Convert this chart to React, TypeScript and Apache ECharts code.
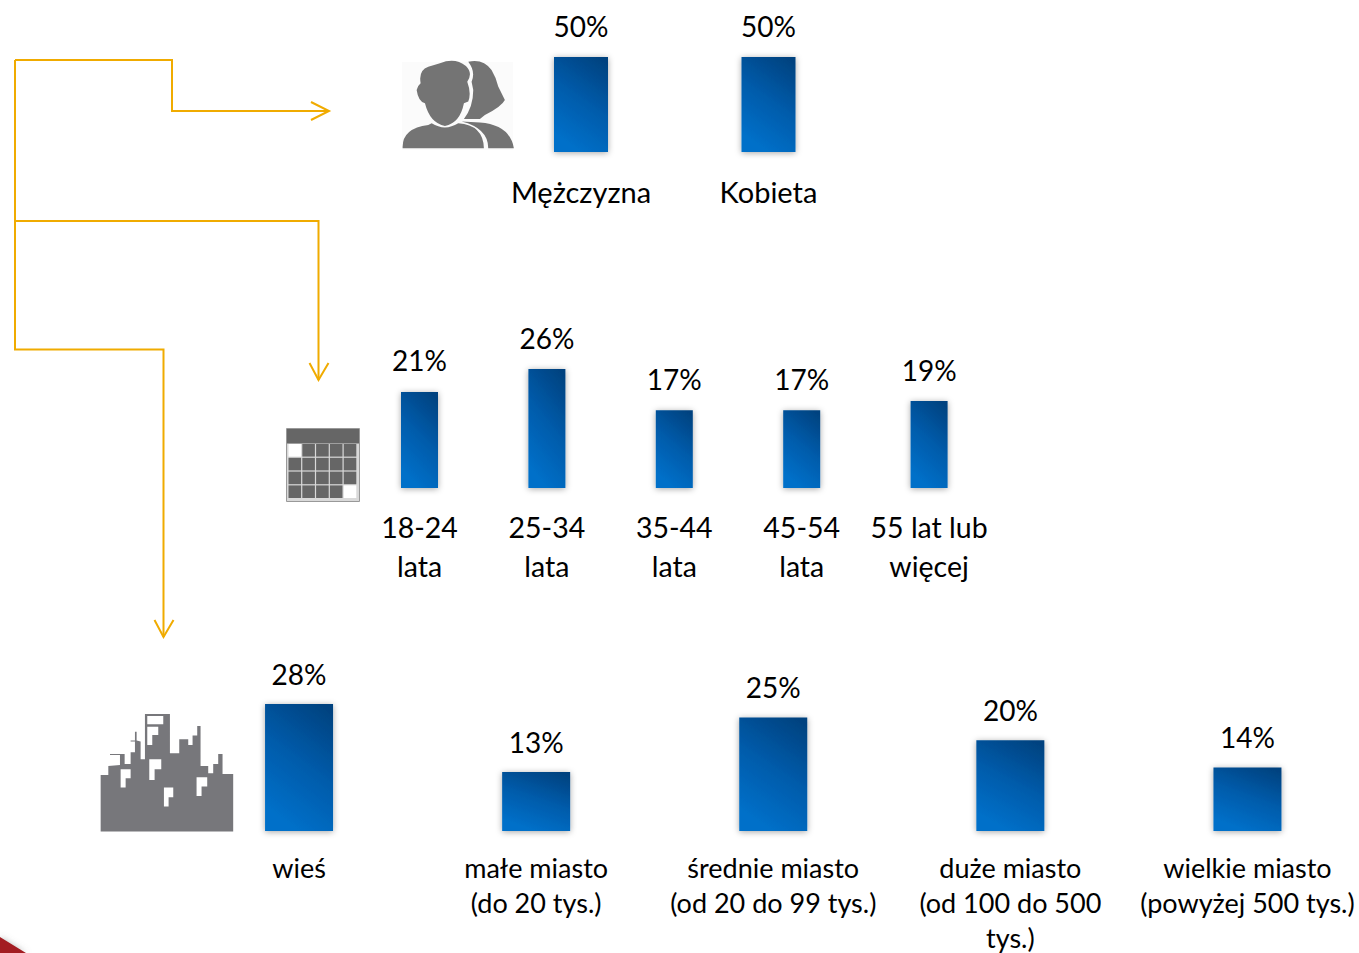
import React, { useEffect, useRef } from "react";
import * as echarts from "echarts";

const genderCategories = ["Mężczyzna", "Kobieta"];
const genderValues = [50, 50];
const ageCategories = ["18-24\nlata", "25-34\nlata", "35-44\nlata", "45-54\nlata", "55 lat lub\nwięcej"];
const ageValues = [21, 26, 17, 17, 19];
const placeCategories = [
  "wieś",
  "małe miasto\n(do 20 tys.)",
  "średnie miasto\n(od 20 do 99 tys.)",
  "duże miasto\n(od 100 do 500\ntys.)",
  "wielkie miasto\n(powyżej 500 tys.)",
];
const placeValues = [28, 13, 25, 20, 14];

const FONT = "Lato, 'Open Sans', sans-serif";
const ORANGE = "#F0AB00";

const PEOPLE_D =
  "M150 70Q195 52 228 78Q250 100 232 125Q245 160 235 185L222 190Q210 250 165 258Q120 250 105 190Q85 185 80 150Q85 135 92 130Q85 90 115 80Z" +
  "M235 65Q280 55 305 90Q320 115 325 140L345 180Q335 200 285 225L270 237L222 237Q250 200 250 150L245 125Q258 95 235 65Z" +
  "M38 325Q35 265 115 255L125 250Q165 275 205 250Q280 255 282 325Z" +
  "M215 245L270 248Q360 255 372 325L295 325Q295 265 215 245Z";
const CITY_D =
  "M32 425L32 255L55 255L55 228L90 225L90 195L60 195L60 192L104 192L104 222L122 222L122 187L135 187L135 155L122 155L122 152L135 152L135 125L140 125L140 152L152 155L152 208L165 208L165 72L240 72L240 190L268 190L268 148L295 148L295 165L308 165L308 137L322 137L322 108L332 108L332 228L355 228L355 250L370 250L370 222L385 222L385 192L398 192L398 252L430 252L430 425Z";
const CITY_WINDOWS_D =
  "M92 238L122 238L122 265L107 265L107 293L92 293Z" +
  "M178 208L214 208L214 238L194 238L194 270L178 270Z" +
  "M222 293L250 293L250 322L236 322L236 350L222 350Z" +
  "M320 262L352 262L352 290L335 290L335 318L320 318Z" +
  "M172 78L220 78L220 103L172 103Z" +
  "M172 110L205 110L205 135L187 135L187 165L172 165Z";

echarts.graphic.registerShape("peopleIcon", echarts.graphic.extendPath(PEOPLE_D, {}));
echarts.graphic.registerShape("cityIcon", echarts.graphic.extendPath(CITY_D, {}));
echarts.graphic.registerShape("cityWindows", echarts.graphic.extendPath(CITY_WINDOWS_D, {}));

const barGradient = new echarts.graphic.LinearGradient(0.85, 0, 0.45, 1, [
  { offset: 0, color: "#00427F" },
  { offset: 0.5, color: "#005BAA" },
  { offset: 1, color: "#0070C9" },
]);

function calendarCells() {
  const cells: any[] = [];
  for (let r = 0; r < 4; r++) {
    for (let c = 0; c < 5; c++) {
      const blank = (r === 0 && c === 0) || (r === 3 && c === 4);
      cells.push({
        type: "rect",
        shape: { x: 288.5 + c * 13.8, y: 444 + r * 13.8, width: 12.6, height: 12.6 },
        style: { fill: blank ? "#ffffff" : "#666666" },
      });
    }
  }
  return cells;
}

function arrowLine(points: number[][]) {
  return { type: "polyline", shape: { points }, style: { stroke: ORANGE, lineWidth: 2, fill: "none" } };
}

function barSeries(idx: number, data: number[], barWidth: number, distance: number) {
  return {
    type: "bar",
    xAxisIndex: idx,
    yAxisIndex: idx,
    data,
    barWidth,
    label: {
      show: true,
      position: "top",
      distance,
      formatter: "{c}%",
      fontFamily: FONT,
      fontSize: 28,
      color: "#000000",
    },
    itemStyle: {
      color: barGradient,
      shadowBlur: 6,
      shadowColor: "rgba(0,0,0,0.35)",
      shadowOffsetY: 1,
    },
  };
}

function xAxis(idx: number, data: string[], margin: number, lineHeight: number, fontSize: number) {
  return {
    type: "category",
    gridIndex: idx,
    data,
    axisLine: { show: false },
    axisTick: { show: false },
    axisLabel: {
      interval: 0,
      margin,
      lineHeight,
      fontFamily: FONT,
      fontSize,
      color: "#000000",
    },
  };
}

function yAxis(idx: number, max: number) {
  return { type: "value", gridIndex: idx, min: 0, max, show: false };
}

export default function App() {
  const ref = useRef<HTMLDivElement>(null);
  useEffect(() => {
    document.body.style.margin = "0";
    const chart = echarts.init(ref.current!, undefined, { renderer: "svg" });
    chart.setOption({
      animation: false,
      backgroundColor: "#ffffff",
      grid: [
        { left: 487.25, top: 57, width: 375, height: 95, outerBoundsMode: "none" },
        { left: 355.8, top: 369, width: 637, height: 119, outerBoundsMode: "none" },
        { left: 180.5, top: 704, width: 1185.5, height: 127, outerBoundsMode: "none" },
      ],
      xAxis: [
        xAxis(0, genderCategories, 22, 34, 29),
        xAxis(1, ageCategories, 19, 39, 28.5),
        xAxis(2, placeCategories, 19, 35, 27),
      ],
      yAxis: [yAxis(0, 50), yAxis(1, 26), yAxis(2, 28)],
      series: [
        barSeries(0, genderValues, 54, 17.5),
        barSeries(1, ageValues, 37, 17.5),
        barSeries(2, placeValues, 68, 16.5),
      ],
      graphic: [
        arrowLine([[15, 60], [172, 60], [172, 111], [329, 111]]),
        arrowLine([[311, 102], [329, 111], [311, 120]]),
        arrowLine([[15, 60], [15, 349.5], [163.5, 349.5], [163.5, 637]]),
        arrowLine([[154.5, 620], [163.5, 637], [173.5, 620]]),
        arrowLine([[15, 221], [318.5, 221], [318.5, 380]]),
        arrowLine([[309.5, 363], [318.5, 380], [328.5, 363]]),
        { type: "rect", shape: { x: 402, y: 62, width: 111, height: 88 }, style: { fill: "#fbfbfb" } },
        { type: "peopleIcon", x: 390, y: 40, scaleX: 1 / 3, scaleY: 1 / 3, style: { fill: "#747474" } },
        { type: "rect", shape: { x: 286.5, y: 428.5, width: 73, height: 73 }, style: { fill: "#d9d9d9", stroke: "#999999", lineWidth: 1 } },
        { type: "rect", shape: { x: 287, y: 429, width: 72, height: 14.5 }, style: { fill: "#666666" } },
        ...calendarCells(),
        { type: "cityIcon", x: 90, y: 690, scaleX: 1 / 3, scaleY: 1 / 3, style: { fill: "#77777B" } },
        { type: "cityWindows", x: 90, y: 690, scaleX: 1 / 3, scaleY: 1 / 3, style: { fill: "#ffffff" } },
        { type: "polygon", shape: { points: [[0, 937], [26, 953], [0, 953]] }, style: { fill: "#A31D22", shadowBlur: 6, shadowColor: "rgba(120,120,120,0.5)" } },
      ],
    });
    return () => chart.dispose();
  }, []);
  return <div ref={ref} style={{ position: "absolute", left: 0, top: 0, width: 1359, height: 953, overflow: "hidden" }} />;
}
